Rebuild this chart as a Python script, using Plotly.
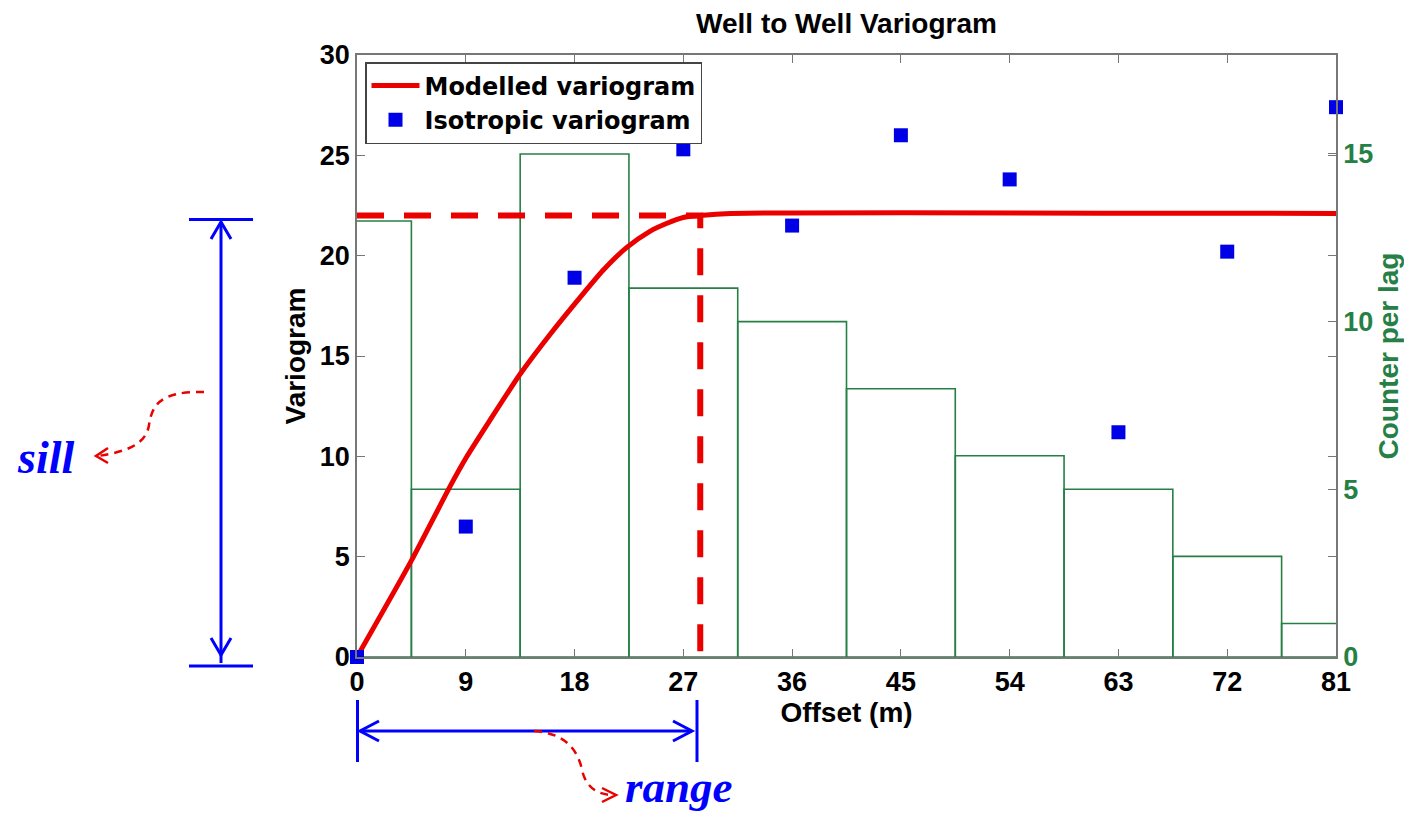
import plotly.graph_objects as go

# ---------------- data ----------------
lag_offset = [0, 9, 18, 27, 36, 45, 54, 63, 72, 81]
pair_count = [13, 5, 15, 11, 10, 8, 6, 5, 3, 1]
iso_gamma = [0.0, 6.5, 18.9, 25.3, 21.5, 26.0, 23.8, 11.2, 20.2, 27.4]

model_offset = [0, 4.5, 7.7, 9.1, 11.0, 13.5, 16.0, 18.7, 20.4, 22.3, 24.2, 25.6, 27.0, 28.4, 30.9, 81]
model_gamma = [0, 4.8, 8.5, 10.0, 11.8, 14.1, 16.1, 18.1, 19.3, 20.4, 21.2, 21.6, 21.9, 22.0, 22.1, 22.1]

sill_level = 22.0
range_offset = 28.4

x_ticks = [0, 9, 18, 27, 36, 45, 54, 63, 72, 81]
y_ticks = [0, 5, 10, 15, 20, 25, 30]
count_ticks = [0, 5, 10, 15]

# ---------------- styling ----------------
W, H = 1404, 813
L, R, T, B = 357, 1336, 55, 657  # plot area in pixels
RED = "rgb(235,0,0)"
BLUE = "rgb(0,0,230)"
ABLUE = "rgb(0,0,255)"
GREEN = "rgb(38,128,70)"
AXC = "#777777"
SANS = "Liberation Sans, Arial, sans-serif"
WIDE = "DejaVu Sans, Liberation Sans, sans-serif"
SERIF = "Liberation Serif, Times New Roman, serif"


def px(x):
    return (x - L) / (R - L)


def py(y):
    return (B - y) / (B - T)


fig = go.Figure()

# histogram of pairs per lag (right axis = primary y)
fig.add_trace(go.Bar(
    x=lag_offset, y=pair_count, width=9, yaxis="y",
    marker=dict(color="rgba(0,0,0,0)", line=dict(color=GREEN, width=1.6)),
    showlegend=False, hoverinfo="skip",
))

# dashed sill / range guides
fig.add_trace(go.Scatter(
    x=[0, range_offset, range_offset], y=[sill_level, sill_level, 0], yaxis="y2",
    mode="lines", line=dict(color=RED, width=6, dash="27px,20px"),
    showlegend=False, hoverinfo="skip",
))

fig.add_trace(go.Scatter(
    x=model_offset, y=model_gamma, yaxis="y2", mode="lines",
    line=dict(color=RED, width=5, shape="spline", smoothing=0.6), name="Modelled variogram",
))
fig.add_trace(go.Scatter(
    x=lag_offset, y=iso_gamma, yaxis="y2", mode="markers",
    marker=dict(symbol="square", size=14, color=BLUE), name="Isotropic variogram",
    cliponaxis=False,
))

tickfont = dict(family=SANS, size=27, color="black", weight="bold")
titlefont = dict(family=SANS, size=28, color="black", weight="bold")

fig.update_layout(
    width=W, height=H,
    margin=dict(l=L, r=W - R, t=T, b=H - B, autoexpand=False),
    paper_bgcolor="white", plot_bgcolor="white",
    title=dict(text="Well to Well Variogram", xref="paper", x=0.5, xanchor="center",
               yref="container", y=1 - 23 / H, yanchor="middle",
               font=dict(family=SANS, size=28, color="black", weight="bold")),
    xaxis=dict(
        range=[0, 81], tickvals=x_ticks, ticktext=[str(v) for v in x_ticks],
        ticks="inside", ticklen=8, tickcolor=AXC, showline=True, linecolor=AXC,
        linewidth=1.5, mirror="ticks", showgrid=False, zeroline=False,
        tickfont=tickfont, automargin=False,
        title=dict(text="Offset (m)", font=titlefont, standoff=0),
    ),
    yaxis=dict(
        range=[0, 17.95], side="right", tickvals=count_ticks,
        ticks="inside", ticklen=8, tickcolor=AXC, showline=True, linecolor=AXC,
        linewidth=1.5, showgrid=False, zeroline=False, automargin=False,
        tickfont=dict(family=SANS, size=27, color=GREEN, weight="bold"),
        title=dict(text="Counter per lag", font=dict(family=SANS, size=28, color=GREEN, weight="bold"),
                   standoff=4),
    ),
    yaxis2=dict(
        range=[0, 30], side="left", overlaying="y", tickvals=y_ticks,
        ticks="inside", ticklen=8, tickcolor=AXC, showline=True, linecolor=AXC,
        linewidth=1.5, mirror="ticks", showgrid=False, zeroline=False,
        tickfont=tickfont, automargin=False,
        title=dict(text="Variogram", font=titlefont, standoff=6),
    ),
    legend=dict(
        x=px(365), y=py(62), xanchor="left", yanchor="top",
        bgcolor="white", bordercolor="#444", borderwidth=1.5,
        font=dict(family=WIDE, size=24, color="black", weight="bold"),
        itemwidth=48, tracegroupgap=0,
    ),
    showlegend=True,
)

# ---------------- annotation decorations (sill / range arrows) ----------------
shapes = []


def seg(x0, y0, x1, y1, color=ABLUE, width=3):
    shapes.append(dict(type="line", xref="paper", yref="paper",
                       x0=px(x0), y0=py(y0), x1=px(x1), y1=py(y1),
                       line=dict(color=color, width=width)))


def path(pts_str, color, width, dash=None):
    d = dict(type="path", xref="paper", yref="paper", path=pts_str,
             line=dict(color=color, width=width))
    if dash:
        d["line"]["dash"] = dash
    shapes.append(d)


def P(x, y):
    return f"{px(x):.5f},{py(y):.5f}"


# sill: vertical double arrow with caps
seg(221, 222, 221, 663)
seg(189, 219.5, 253, 219.5)
seg(189, 666, 253, 666)
path(f"M {P(211, 239)} L {P(221, 222)} L {P(231, 239)}", ABLUE, 3)
path(f"M {P(211, 638)} L {P(221, 655)} L {P(231, 638)}", ABLUE, 3)

# range: horizontal double arrow with caps
seg(360, 731, 692, 731)
seg(357.5, 700, 357.5, 762)
seg(697, 700, 697, 762)
path(f"M {P(379, 721)} L {P(360, 731)} L {P(379, 741)}", ABLUE, 3)
path(f"M {P(673, 721)} L {P(692, 731)} L {P(673, 741)}", ABLUE, 3)

# red dashed curved pointers
path(f"M {P(204, 392)} C {P(160, 391)} {P(152, 405)} {P(149, 425)} C {P(146, 445)} {P(125, 452)} {P(98, 456)}",
     RED, 2.5, dash="8px,6px")
path(f"M {P(108, 448)} L {P(96, 456)} L {P(108, 463)}", RED, 2.5)

path(f"M {P(534, 731)} C {P(565, 733)} {P(578, 750)} {P(582, 770)} C {P(586, 788)} {P(598, 795)} {P(614, 795)}",
     RED, 2.5, dash="8px,6px")
path(f"M {P(602, 788)} L {P(616, 795)} L {P(602, 802)}", RED, 2.5)

fig.update_layout(shapes=shapes)

fig.add_annotation(text="<i><b>sill</b></i>", xref="paper", yref="paper",
                   x=px(45), y=py(457), xanchor="center", yanchor="middle", showarrow=False,
                   font=dict(family=SERIF, size=46, color=ABLUE))
fig.add_annotation(text="<i><b>range</b></i>", xref="paper", yref="paper",
                   x=px(679), y=py(813), xanchor="center", yanchor="bottom", showarrow=False,
                   font=dict(family=SERIF, size=45, color=ABLUE), borderpad=0)

fig.write_html("out.html")
